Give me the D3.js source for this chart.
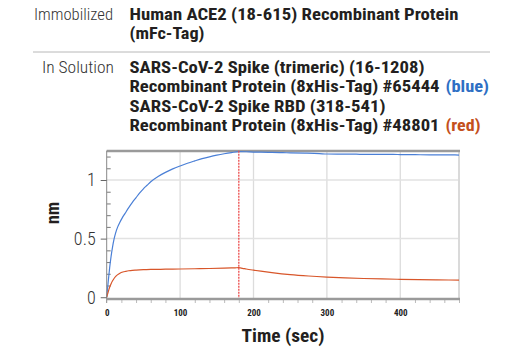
<!DOCTYPE html>
<html>
<head>
<meta charset="utf-8">
<script src="https://cdn.jsdelivr.net/npm/d3@7"></script>
<style>
  html, body { margin: 0; padding: 0; background: #fff; }
  svg { display: block; }
  text { font-family: "Roboto Condensed", "Liberation Sans Narrow", Roboto, "Liberation Sans", sans-serif; }
</style>
</head>
<body>
<svg id="chart" width="520" height="350"></svg>
<script>
// ---- data ----
const spikeTime = [0, 2, 4, 6, 8, 10, 12, 15, 18, 21, 25, 30, 35, 40, 45, 50, 55, 60, 70, 80, 90, 100, 110, 120, 130, 140, 150, 160, 170, 180,
  190, 200, 210, 225, 240, 250, 270, 290, 300, 320, 340, 350, 370, 390, 400, 420, 440, 450, 470, 480];
const spikeNm = [0, 0.13, 0.25, 0.35, 0.43, 0.495, 0.545, 0.6, 0.64, 0.675, 0.715, 0.765, 0.81, 0.85, 0.89, 0.925, 0.955, 0.985, 1.03, 1.065, 1.095, 1.12, 1.143, 1.163, 1.182, 1.198, 1.212, 1.224, 1.234, 1.242,
  1.241, 1.238, 1.237, 1.235, 1.233, 1.232, 1.229, 1.225, 1.222, 1.221, 1.22, 1.219, 1.218, 1.218, 1.217, 1.216, 1.215, 1.215, 1.214, 1.213];

const rbdTime = [0, 2, 4, 6, 8, 10, 12, 15, 18, 22, 26, 30, 35, 40, 50, 60, 80, 100, 120, 140, 160, 175, 180,
  185, 190, 200, 210, 225, 250, 275, 300, 325, 350, 375, 400, 425, 450, 480];
const rbdNm = [0, 0.045, 0.085, 0.115, 0.14, 0.16, 0.176, 0.193, 0.205, 0.215, 0.221, 0.226, 0.23, 0.232, 0.235, 0.237, 0.239, 0.241, 0.243, 0.245, 0.248, 0.251, 0.252,
  0.247, 0.241, 0.231, 0.222, 0.21, 0.193, 0.181, 0.172, 0.165, 0.16, 0.156, 0.153, 0.15, 0.148, 0.146];

const switchTime = 180;
const xTicks = [0, 100, 200, 300, 400];
const xTickLabels = ["0", "100", "200", "300", "400"];
const yTicks = [0, 0.5, 1];
const yTickLabels = ["0", "0.5", "1"];

const headerLabels = ["Immobilized", "In Solution"];
const immobilizedLines = ["Human ACE2 (18-615) Recombinant Protein", "(mFc-Tag)"];
const solutionLines = ["SARS-CoV-2 Spike (trimeric) (16-1208)", "Recombinant Protein (8xHis-Tag) #65444",
  "SARS-CoV-2 Spike RBD (318-541)", "Recombinant Protein (8xHis-Tag) #48801"];
const colorTags = ["(blue)", "(red)"];

// ---- drawing ----
const svg = d3.select("#chart");
const blue = "#4a7fd6", red = "#d8562a";
const textDark = "#231f20";

function fitText(sel, x, y, str, len, opts) {
  const t = sel.append("text").attr("x", x).attr("y", y).text(str)
    .attr("font-size", opts.size).attr("font-weight", opts.weight)
    .attr("fill", opts.fill).attr("text-anchor", opts.anchor || "start");
  if (len) t.attr("textLength", len).attr("lengthAdjust", "spacingAndGlyphs");
  return t;
}
const H = svg.append("g");
const lightOpts = {size: 17, weight: 300, fill: "#333"};
const boldOpts = {size: 16.5, weight: 700, fill: textDark};
fitText(H, 34, 19.5, headerLabels[0], 79, lightOpts);
fitText(H, 42, 73.3, headerLabels[1], 72, lightOpts);
fitText(H, 129.5, 19.5, immobilizedLines[0], 329, boldOpts);
fitText(H, 129.5, 38.5, immobilizedLines[1], 75, boldOpts);
H.append("line").attr("x1", 33).attr("x2", 490).attr("y1", 52).attr("y2", 52)
  .attr("stroke", "#b8b8b8").attr("stroke-width", 1);
fitText(H, 129.5, 73.3, solutionLines[0], 295, boldOpts);
fitText(H, 129.5, 91.7, solutionLines[1], 310, boldOpts);
fitText(H, 445.5, 91.7, colorTags[0], 43.5, {size: 16.5, weight: 700, fill: "#2e6fc4"});
fitText(H, 129.5, 112.3, solutionLines[2], 256, boldOpts);
fitText(H, 129.5, 130.7, solutionLines[3], 310, boldOpts);
fitText(H, 445.5, 130.7, colorTags[1], 35, {size: 16.5, weight: 700, fill: "#c4501c"});

// scales
const x = d3.scaleLinear().domain([0, 480]).range([106.7, 459]);
const y = d3.scaleLinear().domain([-0.015, 1.25]).range([299, 150.7]);

// grid
const grid = svg.append("g");
grid.selectAll("line.vg").data(xTicks.filter(d => d > 0)).join("line")
  .attr("x1", d => x(d)).attr("x2", d => x(d)).attr("y1", y.range()[1]).attr("y2", y.range()[0])
  .attr("stroke", "#dcdcdc").attr("stroke-width", 1.3);
grid.selectAll("line.hg").data(yTicks.filter(d => d > 0)).join("line")
  .attr("x1", x.range()[0]).attr("x2", x.range()[1]).attr("y1", d => y(d)).attr("y2", d => y(d))
  .attr("stroke", "#e2e2e2").attr("stroke-width", 1.5);

// frame: right and top
svg.append("line").attr("x1", 459).attr("x2", 459).attr("y1", 150.7).attr("y2", 299)
  .attr("stroke", "#dadada").attr("stroke-width", 2);
svg.append("line").attr("x1", 106.7).attr("x2", 460).attr("y1", 151).attr("y2", 151)
  .attr("stroke", "#9a9a9a").attr("stroke-width", 2.5);

// minor ticks
const yMinor = d3.range(0.1, 1.25, 0.1).filter(v => Math.abs(v - 0.5) > 1e-6 && Math.abs(v - 1) > 1e-6);
svg.append("g").attr("transform", `translate(${x(0)},0)`)
  .call(d3.axisRight(y).tickValues(yMinor).tickSize(4).tickFormat(""))
  .call(g => g.select(".domain").remove())
  .call(g => g.selectAll(".tick line").attr("stroke", "#555").attr("stroke-width", 0.8));
const xMinor = d3.range(20, 481, 20).filter(v => v % 100 !== 0);
svg.append("g").attr("transform", `translate(0,${y.range()[0]})`)
  .call(d3.axisBottom(x).tickValues(xMinor).tickSize(4).tickFormat(""))
  .call(g => g.select(".domain").remove())
  .call(g => g.selectAll(".tick line").attr("stroke", "#aaa").attr("stroke-width", 0.8));

// lines
const line = d3.line().x(d => x(d[0])).y(d => y(d[1])).curve(d3.curveMonotoneX);
svg.append("path").datum(spikeTime.map((t, i) => [t, spikeNm[i]]))
  .attr("d", line).attr("fill", "none").attr("stroke", blue).attr("stroke-width", 1.2);
svg.append("path").datum(rbdTime.map((t, i) => [t, rbdNm[i]]))
  .attr("d", line).attr("fill", "none").attr("stroke", red).attr("stroke-width", 1.2);

// switch line
svg.append("line").attr("x1", x(switchTime)).attr("x2", x(switchTime))
  .attr("y1", y.range()[1]).attr("y2", y.range()[0])
  .attr("stroke", "#ec4b4b").attr("stroke-width", 1.3).attr("stroke-dasharray", "2,1");

// y axis
svg.append("g").attr("transform", `translate(${x(0)},0)`)
  .call(d3.axisLeft(y).tickValues(yTicks).tickSize(6).tickPadding(5).tickFormat((d, i) => yTickLabels[i]))
  .call(g => g.select(".domain").attr("d", `M0,${y.range()[1]}V${y.range()[0] + 4}`).attr("stroke", "#888").attr("stroke-width", 1))
  .call(g => g.selectAll(".tick line").attr("stroke", "#666"))
  .call(g => g.selectAll(".tick text").attr("font-size", 18).attr("font-weight", 300).attr("fill", "#333")
    .attr("font-family", "'Roboto Condensed','Liberation Sans Narrow',Roboto,sans-serif"));

// x axis
svg.append("g").attr("transform", `translate(0,${y.range()[0]})`)
  .call(d3.axisBottom(x).tickValues(xTicks).tickSize(0).tickPadding(11).tickFormat((d, i) => xTickLabels[i]))
  .call(g => g.select(".domain").attr("d", `M${x.range()[0]},0H${x.range()[1] + 1}`).attr("stroke", "#9a9a9a").attr("stroke-width", 2.5))
  .call(g => g.selectAll(".tick text").attr("font-size", 9).attr("font-weight", 700).attr("fill", "#222")
    .attr("font-family", "'Roboto Condensed','Liberation Sans Narrow',Roboto,sans-serif"));

// axis titles
svg.append("text").attr("transform", "translate(59,213) rotate(-90)")
  .attr("text-anchor", "middle").attr("font-size", 18).attr("font-weight", 700).attr("fill", textDark).text("nm");
svg.append("text").attr("x", 241.5).attr("y", 341.5).attr("textLength", 83).attr("lengthAdjust", "spacingAndGlyphs")
  .attr("font-size", 18).attr("font-weight", 700).attr("fill", textDark).text("Time (sec)");
</script>
</body>
</html>
